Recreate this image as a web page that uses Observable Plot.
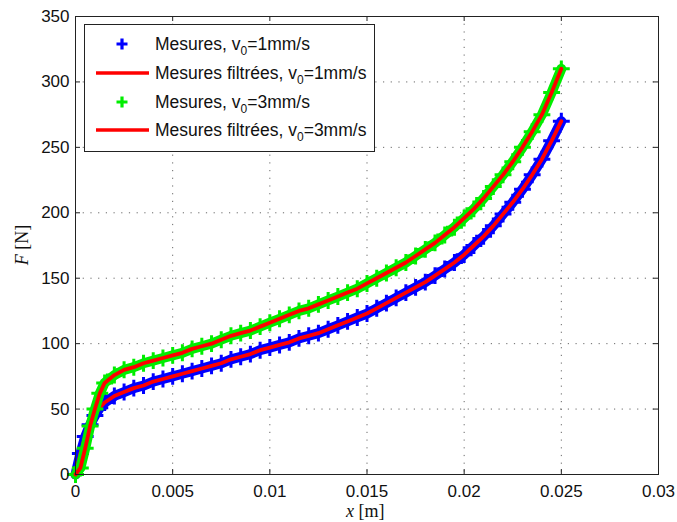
<!DOCTYPE html>
<html><head><meta charset="utf-8">
<script src="https://cdn.jsdelivr.net/npm/d3@7"></script>
<script src="https://cdn.jsdelivr.net/npm/@observablehq/plot@0.6"></script>
<style>
body{margin:0;background:#fff;}
#wrap{position:relative;width:677px;height:522px;font-family:"Liberation Sans",Arial,sans-serif;color:#000;}
.leg{position:absolute;left:84px;top:24px;width:291px;height:128px;border:1px solid #222;background:#fff;box-sizing:border-box;}
.row{position:absolute;left:0;height:22px;width:100%;}
.row svg{position:absolute;left:8px;top:0;}
.row span{position:absolute;left:70px;top:0;line-height:22px;font-size:17.5px;white-space:nowrap;color:#111;}
.row sub{font-size:12px;vertical-align:-5px;line-height:0;}
.lab{position:absolute;font-family:"Liberation Serif","Times New Roman",serif;font-size:18px;line-height:18px;white-space:nowrap;color:#111;}
</style></head>
<body>
<div id="wrap"></div>
<script>
// x positions (m)
const xs = [0,0.00025,0.0005,0.00075,0.001,0.00125,0.0015,
0.002,0.0025,0.003,0.0035,0.004,0.0045,0.005,0.0055,0.006,0.0065,0.007,0.0075,0.008,0.0085,0.009,0.0095,0.01,
0.0105,0.011,0.0115,0.012,0.0125,0.013,0.0135,0.014,0.0145,0.015,
0.0155,0.016,0.0165,0.017,0.0175,0.018,0.0185,0.019,0.0195,0.02,
0.0205,0.021,0.0215,0.022,0.0225,0.023,0.0235,0.024,0.0245,0.025];
// F (N), v0 = 1 mm/s
const f1 = [0,16,29,38,45,51,55,
60,63,66,68,71,73,75,77,79,81,83,85,88,90,92,95,97,
99,101,104,106,108,111,114,117,120,123,
127,131,135,139,143,147,152,157,162,168,
175,182,190,199,208,218,229,241,255,270];
// F (N), v0 = 3 mm/s
const f3 = [0,5,20,37,50,62,70,
76,80,82,85,87,89,91,93,96,98,100,103,106,108,110,113,116,
119,122,125,127,130,133,136,139,142,146,
150,154,158,162,167,172,177,183,189,196,
203,211,220,229,239,250,262,275,292,310];
const xTicks = [0,0.005,0.01,0.015,0.02,0.025,0.03];
const xTickLabels = ["0","0.005","0.01","0.015","0.02","0.025","0.03"];
const yTicks = [0,50,100,150,200,250,300,350];
const legendLabels = ["Mesures, v|=1mm/s","Mesures filtrées, v|=1mm/s","Mesures, v|=3mm/s","Mesures filtrées, v|=3mm/s"];

const W=677,H=522,mL=75,mR=19,mT=16,mB=48;
const pW=W-mL-mR,pH=H-mT-mB;
const d1 = xs.map((x,i)=>({x,F:f1[i]}));
const d3s = xs.map((x,i)=>({x,F:f3[i]}));
const blue="#0000ff",green="#00ee00",red="#ff0000";

const plot = Plot.plot({
  width:W,height:H,marginLeft:mL,marginRight:mR,marginTop:mT,marginBottom:mB,
  style:{fontFamily:"Liberation Sans, Arial, sans-serif",fontSize:"17px",background:"#fff",color:"#111",overflow:"visible"},
  x:{domain:[0,0.03]},
  y:{domain:[0,350]},
  marks:[
    Plot.gridX(xTicks,{stroke:"#444",strokeOpacity:0.8,strokeDasharray:"1.2,6.5"}),
    Plot.gridY(yTicks,{stroke:"#444",strokeOpacity:0.8,strokeDasharray:"1.2,6.5"}),
    Plot.ruleX(xTicks,{insetTop:pH-5,stroke:"#222"}),
    Plot.ruleX(xTicks,{insetBottom:pH-5,stroke:"#222"}),
    Plot.ruleY(yTicks,{insetRight:pW-5,stroke:"#222"}),
    Plot.ruleY(yTicks,{insetLeft:pW-5,stroke:"#222"}),
    Plot.line(d1,{x:"x",y:"F",stroke:blue,strokeWidth:10}),
    Plot.dot(d1,{x:"x",y:"F",symbol:"plus",r:5.5,stroke:blue,strokeWidth:3}),
    Plot.line(d1,{x:"x",y:"F",stroke:red,strokeWidth:3.8}),
    Plot.line(d3s,{x:"x",y:"F",stroke:green,strokeWidth:10}),
    Plot.dot(d3s,{x:"x",y:"F",symbol:"plus",r:5.5,stroke:green,strokeWidth:3}),
    Plot.line(d3s,{x:"x",y:"F",stroke:red,strokeWidth:3.8}),
    Plot.frame({stroke:"#222"}),
    Plot.axisX(xTicks,{tickSize:0,tickPadding:10,label:null,tickFormat:d=>xTickLabels[xTicks.indexOf(d)]}),
    Plot.axisY(yTicks,{tickSize:0,tickPadding:6,label:null})
  ]
});
const wrap=document.getElementById("wrap");
wrap.appendChild(plot);

// axis labels
const xl=document.createElement("div");
xl.className="lab";
xl.innerHTML='<i>x</i> [m]';
xl.style.left="346px";xl.style.top="502px";
wrap.appendChild(xl);
const yl=document.createElement("div");
yl.className="lab";
yl.innerHTML='<i>F</i> [N]';
yl.style.left="2px";yl.style.top="236px";
yl.style.transform="rotate(-90deg)";
wrap.appendChild(yl);

// legend
const leg=document.createElement("div");
leg.className="leg";
const rowTops=[8,37,66,94];
legendLabels.forEach((t,i)=>{
  const r=document.createElement("div");
  r.className="row";r.style.top=rowTops[i]+"px";
  const col=i===0?blue:(i===2?green:red);
  let icon;
  if(i%2===0){
    icon=`<svg width="58" height="22"><path d="M29,5.5V16.5M23.5,11H34.5" stroke="${col}" stroke-width="3.2" fill="none"/></svg>`;
  } else {
    icon=`<svg width="58" height="22"><line x1="3" y1="11" x2="56" y2="11" stroke="${col}" stroke-width="3.5"/></svg>`;
  }
  const [a,b]=t.split("|");
  r.innerHTML=icon+`<span>${a}<sub>0</sub>${b}</span>`;
  leg.appendChild(r);
});
wrap.appendChild(leg);
</script>
</body></html>
